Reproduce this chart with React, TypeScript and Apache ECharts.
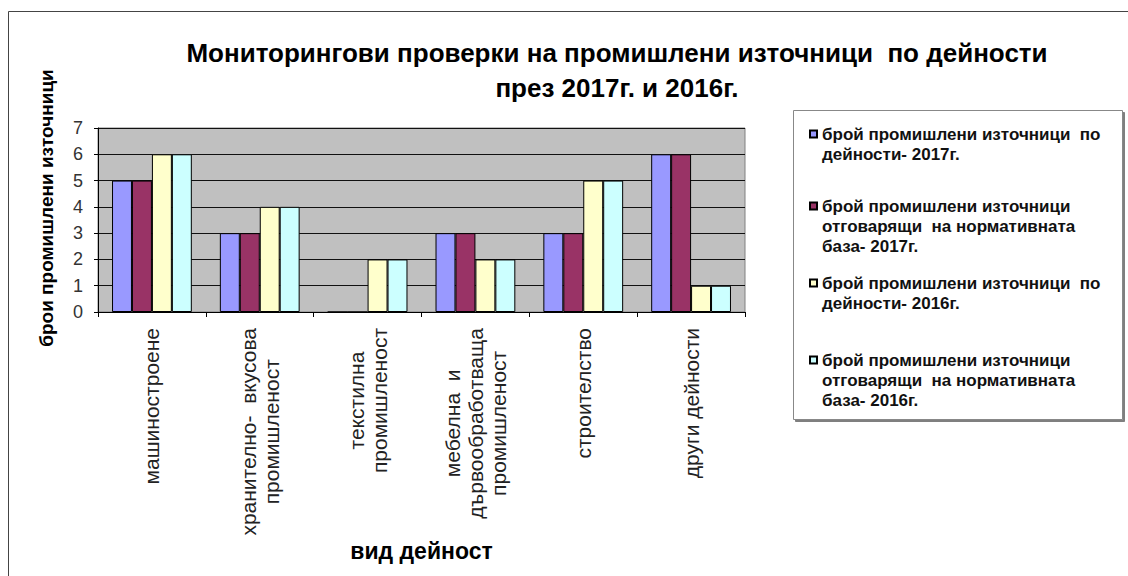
import React, { useEffect, useRef } from "react";
import * as echarts from "echarts";

const categories = [
  "машиностроене",
  "хранително-  вкусова\nпромишленост",
  "текстилна\nпромишленост",
  "мебелна  и\nдървообработваща\nпромишленост",
  "строителство",
  "други дейности",
];

const seriesNames = [
  "брой промишлени източници  по\nдейности- 2017г.",
  "брой промишлени източници\nотговарящи  на нормативната\nбаза- 2017г.",
  "брой промишлени източници  по\nдейности- 2016г.",
  "брой промишлени източници\nотговарящи  на нормативната\nбаза- 2016г.",
];

const total2017 = [5, 3, 0, 3, 3, 6];
const compliant2017 = [5, 3, 0, 3, 3, 6];
const total2016 = [6, 4, 2, 2, 5, 1];
const compliant2016 = [6, 4, 2, 2, 5, 1];

const colors = ["#9999FF", "#993366", "#FFFFCC", "#CCFFFF"];
const yTicks = [0, 1, 2, 3, 4, 5, 6, 7];

const FONT = "'Liberation Sans', Arial, sans-serif";

export default function App() {
  const ref = useRef<HTMLDivElement>(null);
  useEffect(() => {
    if (!ref.current) return;
    const chart = echarts.init(ref.current, null, { renderer: "svg" });
    const values = [total2017, compliant2017, total2016, compliant2016];
    const legendTops = [104, 156, 253, 310];
    const LH = 20;
    const legends = seriesNames.map((name, i) => {
      const n = name.split("\n").length;
      return {
        data: [name],
        left: 809,
        top: legendTops[i],
        orient: "vertical",
        padding: 0,
        icon: "rect",
        itemWidth: 7,
        itemHeight: 7,
        itemGap: 0,
        selectedMode: false,
        formatter: (nm: string) => "\n".repeat(n - 1) + nm,
        textStyle: {
          fontFamily: FONT,
          fontWeight: "bold",
          fontSize: 17,
          color: "#111",
          lineHeight: LH,
        },
      };
    });
    chart.setOption({
      animation: false,
      backgroundColor: "#fff",
      title: {
        text: "Мониторингови проверки на промишлени източници  по дейности\nпрез 2017г. и 2016г.",
        left: 612,
        top: 30,
        textAlign: "center",
        textStyle: {
          fontFamily: FONT,
          fontWeight: "bold",
          fontSize: 26,
          lineHeight: 35,
          color: "#000",
        },
      },
      legend: legends,
      graphic: [
        {
          type: "rect",
          shape: { x: 8.5, y: 11.5, width: 1200, height: 700 },
          style: { fill: "none", stroke: "#444", lineWidth: 1 },
          z: -10,
        },
        {
          type: "rect",
          shape: { x: 793.5, y: 110.5, width: 329, height: 309 },
          style: {
            fill: "#fff",
            stroke: "#888",
            lineWidth: 1,
            shadowColor: "rgba(0,0,0,0.5)",
            shadowOffsetX: 2,
            shadowOffsetY: 2,
            shadowBlur: 0,
          },
          z: -5,
        },
      ],
      grid: {
        left: 98,
        top: 128,
        right: 383,
        bottom: 264,
        show: true,
        backgroundColor: "#C0C0C0",
        borderColor: "#808080",
        borderWidth: 1,
      },
      xAxis: {
        type: "category",
        data: categories,
        name: "вид дейност",
        nameLocation: "middle",
        nameGap: 222,
        nameTextStyle: {
          fontFamily: FONT,
          fontWeight: "bold",
          fontSize: 23,
          color: "#000",
        },
        axisLine: { lineStyle: { color: "#000", width: 1 } },
        axisTick: { show: true, alignWithLabel: false, length: 5, lineStyle: { color: "#000" } },
        axisLabel: {
          rotate: 90,
          margin: 16,
          interval: 0,
          color: "#222",
          fontFamily: FONT,
          fontSize: 21,
          lineHeight: 23,
          formatter: (v: string) =>
            v
              .split("\n")
              .map((l) => `{c|${l}}`)
              .join("\n"),
          rich: {
            c: {
              align: "center",
              fontFamily: FONT,
              fontSize: 21,
              lineHeight: 23,
              color: "#222",
            },
          },
        },
      },
      yAxis: {
        type: "value",
        min: yTicks[0],
        max: yTicks[yTicks.length - 1],
        interval: 1,
        name: "брои промишлени източници",
        nameLocation: "middle",
        nameGap: 42,
        nameTextStyle: {
          fontFamily: FONT,
          fontWeight: "bold",
          fontSize: 19,
          color: "#000",
          padding: [0, 0, 0, 24],
        },
        axisLine: { show: true, lineStyle: { color: "#000", width: 1 } },
        axisTick: { show: true, length: 4, lineStyle: { color: "#000" } },
        axisLabel: {
          margin: 15,
          color: "#333",
          fontFamily: FONT,
          fontSize: 18,
        },
        splitLine: { show: true, lineStyle: { color: "#111", width: 1 } },
      },
      series: seriesNames.map((name, i) => ({
        type: "bar",
        name,
        data: values[i],
        barGap: "0%",
        barCategoryGap: "26%",
        itemStyle: { color: colors[i], borderColor: "#000", borderWidth: 1 },
      })),
    });
    return () => chart.dispose();
  }, []);
  return (
    <div
      ref={ref}
      style={{ position: "fixed", left: 0, top: 0, width: 1128, height: 576 }}
    />
  );
}
